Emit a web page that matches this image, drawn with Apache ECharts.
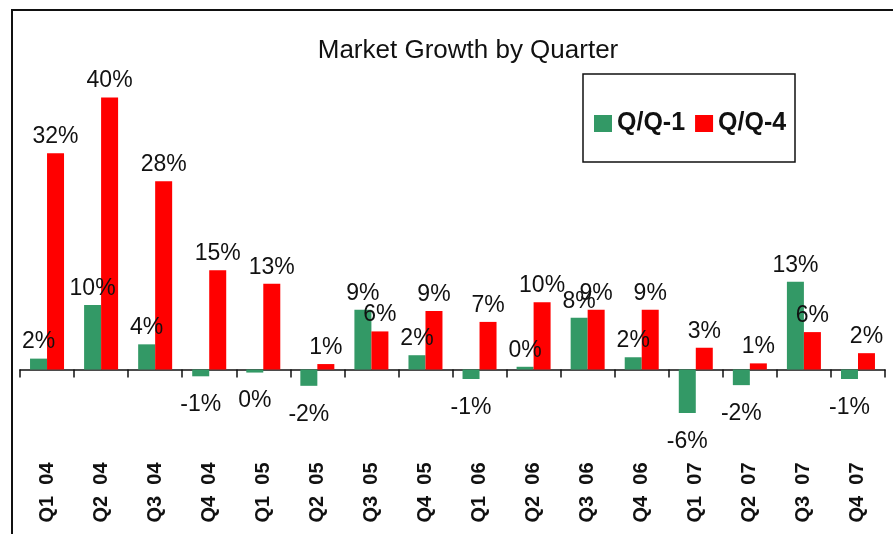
<!DOCTYPE html>
<html>
<head>
<meta charset="utf-8">
<script src="https://cdn.jsdelivr.net/npm/echarts@6/dist/echarts.min.js"></script>
<style>
html,body{margin:0;padding:0;background:#fff;}
#chart{width:893px;height:534px;}
</style>
</head>
<body>
<div id="chart"></div>
<script>
const titleText = 'Market Growth by Quarter';
const categories = ['Q1 04','Q2 04','Q3 04','Q4 04','Q1 05','Q2 05','Q3 05','Q4 05','Q1 06','Q2 06','Q3 06','Q4 06','Q1 07','Q2 07','Q3 07','Q4 07'];
const seriesNames = ['Q/Q-1','Q/Q-4'];
const qq1 = [1.6, 9.5, 3.7, -1.0, -0.45, -2.4, 8.8, 2.1, -1.4, 0.4, 7.6, 1.8, -6.4, -2.3, 12.9, -1.4];
const qq4 = [31.8, 40.0, 27.7, 14.6, 12.6, 0.8, 5.6, 8.6, 7.0, 9.9, 8.8, 8.8, 3.2, 0.9, 5.5, 2.4];

const FONT = "'Liberation Sans', Arial, sans-serif";
function toData(arr) {
  return arr.map(v => ({
    value: v,
    label: v < 0 ? { position: 'bottom', distance: 17 } : { position: 'top', distance: 5 }
  }));
}
const labelStyle = {
  show: true,
  formatter: p => Math.round(p.value) + '%',
  fontFamily: FONT,
  fontSize: 23,
  color: '#111'
};

const chart = echarts.init(document.getElementById('chart'), null, {renderer: 'canvas'});
chart.setOption({
  animation: false,
  backgroundColor: '#fff',
  title: {
    text: titleText,
    left: 463,
    top: 33,
    textAlign: 'center',
    textStyle: { fontFamily: FONT, fontSize: 26, fontWeight: 'normal', color: '#111' }
  },
  graphic: [
    { type: 'rect', shape: { x: 12, y: 10, width: 900, height: 600 }, style: { fill: 'none', stroke: '#111', lineWidth: 2 }, z: -1 },
    { type: 'rect', shape: { x: 583, y: 74, width: 212, height: 88 }, style: { fill: '#fff', stroke: '#111', lineWidth: 1.5 }, z: 0 }
  ],
  legend: {
    left: 589,
    top: 106,
    itemWidth: 18,
    itemHeight: 17,
    itemGap: 10,
    icon: 'rect',
    data: seriesNames,
    textStyle: { fontFamily: FONT, fontSize: 25, fontWeight: 'bold', color: '#111' },
    z: 5
  },
  grid: { left: 20, right: 8, top: 97.5, bottom: 96.5, containLabel: false, outerBoundsMode: 'none' },
  xAxis: {
    type: 'category',
    data: categories,
    axisLine: { onZero: true, lineStyle: { color: '#111', width: 1.5 } },
    axisTick: { show: true, length: 8, interval: 0, lineStyle: { color: '#111', width: 1.5 } },
    axisLabel: {
      interval: 0,
      rotate: 90,
      margin: 25,
      fontFamily: FONT,
      fontSize: 20,
      fontWeight: 'bold',
      color: '#111',
      formatter: s => s.replace(' ', '  ')
    },
    splitLine: { show: false }
  },
  yAxis: {
    type: 'value',
    min: -10,
    max: 40,
    show: false,
    splitLine: { show: false }
  },
  series: [
    {
      name: seriesNames[0],
      type: 'bar',
      data: toData(qq1),
      barWidth: 17,
      barGap: '0%',
      itemStyle: { color: '#339966' },
      label: labelStyle
    },
    {
      name: seriesNames[1],
      type: 'bar',
      data: toData(qq4),
      barWidth: 17,
      barGap: '0%',
      itemStyle: { color: '#ff0000' },
      label: labelStyle
    }
  ]
});
</script>
</body>
</html>
